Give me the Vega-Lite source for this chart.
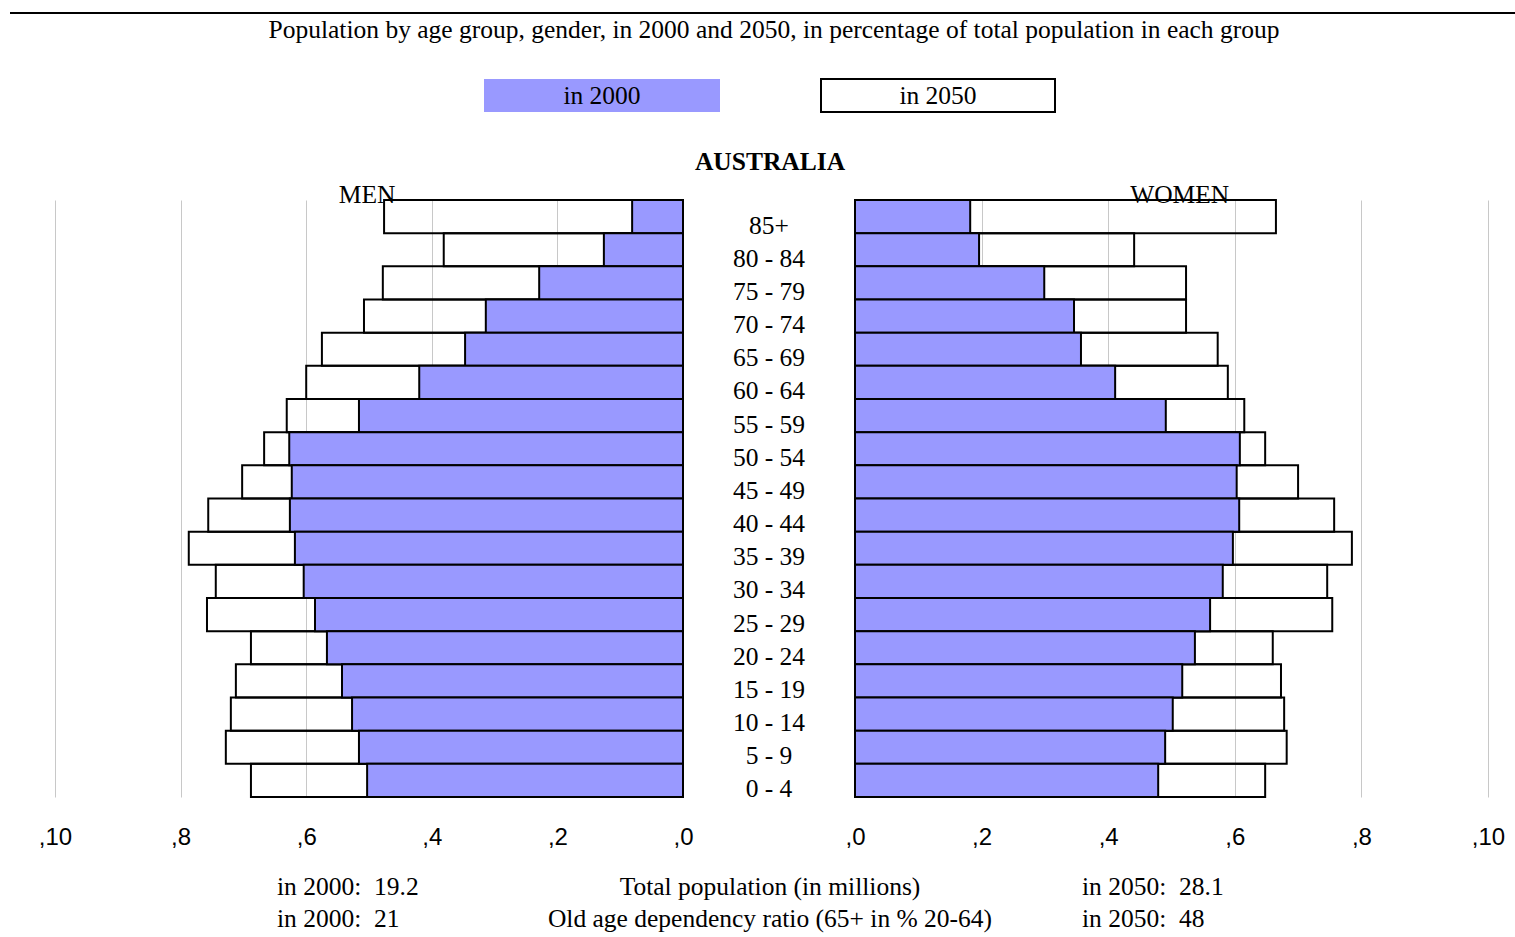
{
  "$schema": "https://vega.github.io/schema/vega-lite/v6.json",
  "padding": 0,
  "background": "white",
  "spacing": 0,
  "bounds": "flush",
  "config": {"view": {"stroke": null}, "text": {"font": "Liberation Serif", "color": "black"}},
  "datasets": {
    "pop": [
      {"age": "85+", "sex": "Men", "year": 2000, "value": 0.81},
      {"age": "80 - 84", "sex": "Men", "year": 2000, "value": 1.26},
      {"age": "75 - 79", "sex": "Men", "year": 2000, "value": 2.29},
      {"age": "70 - 74", "sex": "Men", "year": 2000, "value": 3.14},
      {"age": "65 - 69", "sex": "Men", "year": 2000, "value": 3.47},
      {"age": "60 - 64", "sex": "Men", "year": 2000, "value": 4.2},
      {"age": "55 - 59", "sex": "Men", "year": 2000, "value": 5.16},
      {"age": "50 - 54", "sex": "Men", "year": 2000, "value": 6.27},
      {"age": "45 - 49", "sex": "Men", "year": 2000, "value": 6.23},
      {"age": "40 - 44", "sex": "Men", "year": 2000, "value": 6.26},
      {"age": "35 - 39", "sex": "Men", "year": 2000, "value": 6.18},
      {"age": "30 - 34", "sex": "Men", "year": 2000, "value": 6.04},
      {"age": "25 - 29", "sex": "Men", "year": 2000, "value": 5.86},
      {"age": "20 - 24", "sex": "Men", "year": 2000, "value": 5.67},
      {"age": "15 - 19", "sex": "Men", "year": 2000, "value": 5.43},
      {"age": "10 - 14", "sex": "Men", "year": 2000, "value": 5.27},
      {"age": "5 - 9", "sex": "Men", "year": 2000, "value": 5.16},
      {"age": "0 - 4", "sex": "Men", "year": 2000, "value": 5.03},
      {"age": "85+", "sex": "Men", "year": 2050, "value": 4.76},
      {"age": "80 - 84", "sex": "Men", "year": 2050, "value": 3.81},
      {"age": "75 - 79", "sex": "Men", "year": 2050, "value": 4.78},
      {"age": "70 - 74", "sex": "Men", "year": 2050, "value": 5.08},
      {"age": "65 - 69", "sex": "Men", "year": 2050, "value": 5.75},
      {"age": "60 - 64", "sex": "Men", "year": 2050, "value": 6.0},
      {"age": "55 - 59", "sex": "Men", "year": 2050, "value": 6.31},
      {"age": "50 - 54", "sex": "Men", "year": 2050, "value": 6.67},
      {"age": "45 - 49", "sex": "Men", "year": 2050, "value": 7.02},
      {"age": "40 - 44", "sex": "Men", "year": 2050, "value": 7.56},
      {"age": "35 - 39", "sex": "Men", "year": 2050, "value": 7.87},
      {"age": "30 - 34", "sex": "Men", "year": 2050, "value": 7.44},
      {"age": "25 - 29", "sex": "Men", "year": 2050, "value": 7.58},
      {"age": "20 - 24", "sex": "Men", "year": 2050, "value": 6.88},
      {"age": "15 - 19", "sex": "Men", "year": 2050, "value": 7.12},
      {"age": "10 - 14", "sex": "Men", "year": 2050, "value": 7.2},
      {"age": "5 - 9", "sex": "Men", "year": 2050, "value": 7.28},
      {"age": "0 - 4", "sex": "Men", "year": 2050, "value": 6.88},
      {"age": "85+", "sex": "Women", "year": 2000, "value": 1.82},
      {"age": "80 - 84", "sex": "Women", "year": 2000, "value": 1.96},
      {"age": "75 - 79", "sex": "Women", "year": 2000, "value": 2.99},
      {"age": "70 - 74", "sex": "Women", "year": 2000, "value": 3.46},
      {"age": "65 - 69", "sex": "Women", "year": 2000, "value": 3.57},
      {"age": "60 - 64", "sex": "Women", "year": 2000, "value": 4.11},
      {"age": "55 - 59", "sex": "Women", "year": 2000, "value": 4.91},
      {"age": "50 - 54", "sex": "Women", "year": 2000, "value": 6.08},
      {"age": "45 - 49", "sex": "Women", "year": 2000, "value": 6.03},
      {"age": "40 - 44", "sex": "Women", "year": 2000, "value": 6.07},
      {"age": "35 - 39", "sex": "Women", "year": 2000, "value": 5.97},
      {"age": "30 - 34", "sex": "Women", "year": 2000, "value": 5.81},
      {"age": "25 - 29", "sex": "Women", "year": 2000, "value": 5.61},
      {"age": "20 - 24", "sex": "Women", "year": 2000, "value": 5.37},
      {"age": "15 - 19", "sex": "Women", "year": 2000, "value": 5.17},
      {"age": "10 - 14", "sex": "Women", "year": 2000, "value": 5.02},
      {"age": "5 - 9", "sex": "Women", "year": 2000, "value": 4.9},
      {"age": "0 - 4", "sex": "Women", "year": 2000, "value": 4.79},
      {"age": "85+", "sex": "Women", "year": 2050, "value": 6.65},
      {"age": "80 - 84", "sex": "Women", "year": 2050, "value": 4.41},
      {"age": "75 - 79", "sex": "Women", "year": 2050, "value": 5.23},
      {"age": "70 - 74", "sex": "Women", "year": 2050, "value": 5.23},
      {"age": "65 - 69", "sex": "Women", "year": 2050, "value": 5.73},
      {"age": "60 - 64", "sex": "Women", "year": 2050, "value": 5.89},
      {"age": "55 - 59", "sex": "Women", "year": 2050, "value": 6.15},
      {"age": "50 - 54", "sex": "Women", "year": 2050, "value": 6.48},
      {"age": "45 - 49", "sex": "Women", "year": 2050, "value": 7.0},
      {"age": "40 - 44", "sex": "Women", "year": 2050, "value": 7.57},
      {"age": "35 - 39", "sex": "Women", "year": 2050, "value": 7.85},
      {"age": "30 - 34", "sex": "Women", "year": 2050, "value": 7.46},
      {"age": "25 - 29", "sex": "Women", "year": 2050, "value": 7.54},
      {"age": "20 - 24", "sex": "Women", "year": 2050, "value": 6.6},
      {"age": "15 - 19", "sex": "Women", "year": 2050, "value": 6.73},
      {"age": "10 - 14", "sex": "Women", "year": 2050, "value": 6.78},
      {"age": "5 - 9", "sex": "Women", "year": 2050, "value": 6.82},
      {"age": "0 - 4", "sex": "Women", "year": 2050, "value": 6.48}
    ],
    "ages": [
      {"age": "85+"}, {"age": "80 - 84"}, {"age": "75 - 79"}, {"age": "70 - 74"}, {"age": "65 - 69"}, {"age": "60 - 64"},
      {"age": "55 - 59"}, {"age": "50 - 54"}, {"age": "45 - 49"}, {"age": "40 - 44"}, {"age": "35 - 39"}, {"age": "30 - 34"},
      {"age": "25 - 29"}, {"age": "20 - 24"}, {"age": "15 - 19"}, {"age": "10 - 14"}, {"age": "5 - 9"}, {"age": "0 - 4"}
    ],
    "legend": [
      {"series": "in 2000"}, {"series": "in 2050"}
    ],
    "summary": [
      {"row": 1, "left": "in 2000:\u00a0 19.2", "label": "Total population (in millions)", "right": "in 2050:\u00a0 28.1"},
      {"row": 2, "left": "in 2000:\u00a0 21", "label": "Old age dependency ratio (65+ in % 20-64)", "right": "in 2050:\u00a0 48"}
    ]
  },
  "vconcat": [
    {
      "width": 1515,
      "height": 200,
      "data": {"values": [{}]},
      "layer": [
        {
          "mark": {"type": "rule", "stroke": "black", "strokeWidth": 2},
          "encoding": {
            "x": {"datum": 10, "type": "quantitative", "scale": {"domain": [0, 1515], "nice": false, "zero": false}, "axis": null},
            "x2": {"datum": 1515},
            "y": {"datum": 13, "type": "quantitative", "scale": {"domain": [0, 200], "reverse": true, "nice": false, "zero": false}, "axis": null}
          }
        },
        {
          "mark": {"type": "text", "fontSize": 25.5, "baseline": "middle", "align": "center"},
          "encoding": {
            "x": {"datum": 774, "type": "quantitative"},
            "y": {"datum": 30, "type": "quantitative"},
            "text": {"value": "Population by age group, gender, in 2000 and 2050, in percentage of total population in each group"}
          }
        },
        {
          "data": {"name": "legend"},
          "mark": {"type": "rect", "strokeWidth": 2},
          "encoding": {
            "x": {"datum": 484, "type": "quantitative"},
            "x2": {"datum": 720},
            "y": {"datum": 79, "type": "quantitative"},
            "y2": {"datum": 112},
            "fill": {"value": "#9999FF"}
          },
          "transform": [{"filter": "datum.series == 'in 2000'"}]
        },
        {
          "data": {"name": "legend"},
          "mark": {"type": "rect", "strokeWidth": 2, "stroke": "black", "fill": "white"},
          "encoding": {
            "x": {"datum": 821, "type": "quantitative"},
            "x2": {"datum": 1055},
            "y": {"datum": 79, "type": "quantitative"},
            "y2": {"datum": 112}
          },
          "transform": [{"filter": "datum.series == 'in 2050'"}]
        },
        {
          "data": {"name": "legend"},
          "transform": [{"filter": "datum.series == 'in 2000'"}],
          "mark": {"type": "text", "fontSize": 25.5, "baseline": "middle", "align": "center"},
          "encoding": {
            "x": {"datum": 602, "type": "quantitative"},
            "y": {"datum": 96, "type": "quantitative"},
            "text": {"field": "series"}
          }
        },
        {
          "data": {"name": "legend"},
          "transform": [{"filter": "datum.series == 'in 2050'"}],
          "mark": {"type": "text", "fontSize": 25.5, "baseline": "middle", "align": "center"},
          "encoding": {
            "x": {"datum": 938, "type": "quantitative"},
            "y": {"datum": 96, "type": "quantitative"},
            "text": {"field": "series"}
          }
        },
        {
          "mark": {"type": "text", "fontSize": 25.5, "fontWeight": "bold", "baseline": "middle", "align": "center"},
          "encoding": {
            "x": {"datum": 770, "type": "quantitative"},
            "y": {"datum": 162, "type": "quantitative"},
            "text": {"value": "AUSTRALIA"}
          }
        }
      ]
    },
    {
      "spacing": 0,
      "bounds": "flush",
      "hconcat": [
        {
          "width": 683,
          "height": 597,
          "layer": [
            {
              "data": {"name": "pop"},
              "transform": [{"filter": "datum.sex == 'Men' && datum.year == 2050"}],
              "mark": {"type": "bar", "fill": "transparent", "stroke": "black", "strokeWidth": 2},
              "encoding": {
                "y": {"field": "age", "type": "nominal", "sort": null, "scale": {"paddingInner": 0, "paddingOuter": 0}, "axis": null},
                "x": {"field": "value", "type": "quantitative", "scale": {"domain": [0, 10.876], "reverse": true, "nice": false},
                  "axis": {"title": null, "values": [0, 2, 4, 6, 8, 10], "labelExpr": "',' + datum.value", "domain": false, "ticks": false, "tickSize": 0,
                    "labelPadding": 28, "labelFont": "Liberation Sans", "labelFontSize": 24, "labelColor": "black", "labelFlush": false, "labelOverlap": false,
                    "grid": true, "gridColor": "#c8c8c8", "gridWidth": 1}}
              }
            },
            {
              "data": {"name": "pop"},
              "transform": [{"filter": "datum.sex == 'Men' && datum.year == 2000"}],
              "mark": {"type": "bar", "fill": "#9999FF", "stroke": "black", "strokeWidth": 2},
              "encoding": {
                "y": {"field": "age", "type": "nominal", "sort": null},
                "x": {"field": "value", "type": "quantitative"}
              }
            },
            {
              "data": {"values": [{}]},
              "mark": {"type": "text", "fontSize": 25.5, "align": "center", "baseline": "alphabetic", "dy": -14},
              "encoding": {
                "x": {"datum": 5.03, "type": "quantitative"},
                "y": {"datum": "85+", "type": "nominal"},
                "text": {"value": "MEN"}
              }
            }
          ]
        },
        {
          "width": 172,
          "height": 597,
          "data": {"name": "ages"},
          "mark": {"type": "text", "fontSize": 25.5, "align": "center", "baseline": "alphabetic", "dy": 17},
          "encoding": {
            "y": {"field": "age", "type": "nominal", "sort": null, "scale": {"paddingInner": 0, "paddingOuter": 0}, "axis": null},
            "text": {"field": "age"}
          }
        },
        {
          "width": 660,
          "height": 597,
          "layer": [
            {
              "data": {"name": "pop"},
              "transform": [{"filter": "datum.sex == 'Women' && datum.year == 2050"}],
              "mark": {"type": "bar", "fill": "transparent", "stroke": "black", "strokeWidth": 2},
              "encoding": {
                "y": {"field": "age", "type": "nominal", "sort": null, "scale": {"paddingInner": 0, "paddingOuter": 0}, "axis": null},
                "x": {"field": "value", "type": "quantitative", "scale": {"domain": [0, 10.427], "nice": false},
                  "axis": {"title": null, "values": [0, 2, 4, 6, 8, 10], "labelExpr": "',' + datum.value", "domain": false, "ticks": false, "tickSize": 0,
                    "labelPadding": 28, "labelFont": "Liberation Sans", "labelFontSize": 24, "labelColor": "black", "labelFlush": false, "labelOverlap": false,
                    "grid": true, "gridColor": "#c8c8c8", "gridWidth": 1}}
              }
            },
            {
              "data": {"name": "pop"},
              "transform": [{"filter": "datum.sex == 'Women' && datum.year == 2000"}],
              "mark": {"type": "bar", "fill": "#9999FF", "stroke": "black", "strokeWidth": 2},
              "encoding": {
                "y": {"field": "age", "type": "nominal", "sort": null},
                "x": {"field": "value", "type": "quantitative"}
              }
            },
            {
              "data": {"values": [{}]},
              "mark": {"type": "text", "fontSize": 25.5, "align": "center", "baseline": "alphabetic", "dy": -14},
              "encoding": {
                "x": {"datum": 5.13, "type": "quantitative"},
                "y": {"datum": "85+", "type": "nominal"},
                "text": {"value": "WOMEN"}
              }
            }
          ]
        }
      ]
    },
    {
      "width": 1515,
      "height": 737,
      "data": {"name": "summary"},
      "encoding": {
        "y": {"field": "row", "type": "quantitative", "scale": {"domain": [-20.46875, 2.5625], "reverse": true, "nice": false, "zero": false}, "axis": null}
      },
      "layer": [
        {
          "mark": {"type": "text", "fontSize": 25.5, "align": "left", "baseline": "middle"},
          "encoding": {
            "x": {"datum": 277, "type": "quantitative", "scale": {"domain": [0, 1515], "nice": false, "zero": false}, "axis": null},
            "text": {"field": "left"}
          }
        },
        {
          "mark": {"type": "text", "fontSize": 25.5, "align": "center", "baseline": "middle"},
          "encoding": {
            "x": {"datum": 770, "type": "quantitative"},
            "text": {"field": "label"}
          }
        },
        {
          "mark": {"type": "text", "fontSize": 25.5, "align": "left", "baseline": "middle"},
          "encoding": {
            "x": {"datum": 1082, "type": "quantitative"},
            "text": {"field": "right"}
          }
        },
        {
          "data": {"values": [{}]},
          "mark": {"type": "rule", "stroke": "black", "strokeWidth": 2},
          "encoding": {
            "x": {"datum": 10, "type": "quantitative"},
            "x2": {"datum": 1515},
            "y": {"datum": 2.46875, "type": "quantitative"}
          }
        }
      ]
    }
  ]
}
